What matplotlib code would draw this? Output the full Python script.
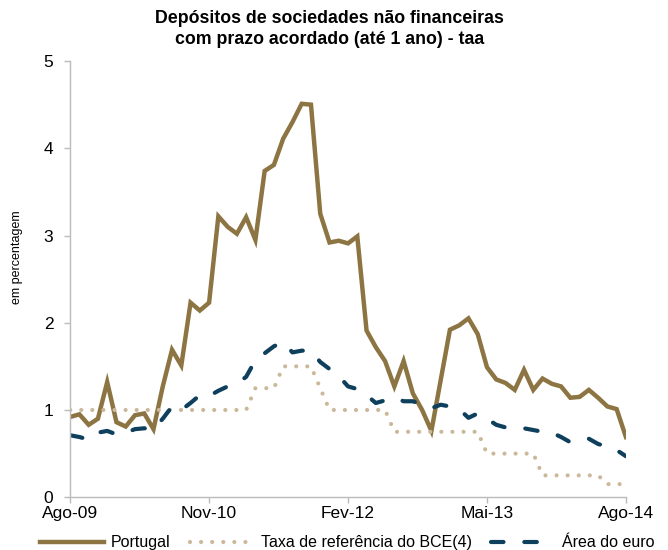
import matplotlib.pyplot as plt
import numpy as np

# Séries mensais, Ago-09 a Ago-14 (taxas em percentagem)
portugal = [0.92, 0.95, 0.83, 0.90, 1.32, 0.86, 0.81, 0.94, 0.96, 0.78,
            1.27, 1.69, 1.51, 2.23, 2.14, 2.23, 3.22, 3.10, 3.02, 3.21,
            2.95, 3.74, 3.81, 4.11, 4.30, 4.51, 4.50, 3.25, 2.92, 2.94,
            2.91, 2.99, 1.91, 1.72, 1.56, 1.27, 1.56, 1.19, 1.00, 0.76,
            1.34, 1.92, 1.97, 2.05, 1.87, 1.49, 1.35, 1.31, 1.23, 1.46,
            1.23, 1.36, 1.30, 1.27, 1.14, 1.15, 1.23, 1.14, 1.04, 1.01,
            0.69]
taxa_bce = [1.00] * 20 + [1.25] * 3 + [1.50] * 4 + [1.25] + [1.00] * 7 + \
           [0.75] * 10 + [0.50] * 6 + [0.25] * 7 + [0.15] * 3
area_euro = [0.71, 0.69, 0.66, 0.74, 0.76, 0.72, 0.74, 0.78, 0.79, 0.78,
             0.90, 1.04, 1.00, 1.08, 1.17, 1.16, 1.22, 1.27, 1.30, 1.38,
             1.57, 1.65, 1.73, 1.78, 1.66, 1.68, 1.68, 1.55, 1.47, 1.39,
             1.27, 1.24, 1.17, 1.08, 1.11, 1.14, 1.10, 1.10, 1.06, 1.02,
             1.06, 1.04, 1.01, 0.91, 0.96, 0.90, 0.83, 0.80, 0.79, 0.79,
             0.77, 0.75, 0.74, 0.69, 0.63, 0.65, 0.67, 0.61, 0.58, 0.54,
             0.47]
tick_labels = ["Ago-09", "Nov-10", "Fev-12", "Mai-13", "Ago-14"]

meses = np.arange(len(portugal))

plt.rcParams['font.family'] = ['Liberation Sans Narrow', 'Liberation Sans', 'DejaVu Sans']

fig = plt.figure(figsize=(6.68, 5.5), dpi=100)
ax = fig.add_axes([0.105, 0.096, 0.832, 0.793])

ax.plot(meses, portugal, color="#8C7542", lw=3.2, solid_joinstyle="miter",
        label="Portugal")
ax.plot(meses, taxa_bce, color="#CBB89A", lw=3.0,
        linestyle=(0, (0.01, 2.65)), dash_capstyle="round",
        label="Taxa de referência do BCE(4)")
ax.plot(meses, area_euro, color="#0E3F5C", lw=3.0,
        linestyle=(0, (3.0, 5.0)), dash_capstyle="round",
        label="Área do euro")

ax.set_xlim(0, 60)
ax.set_ylim(0, 5)
ax.set_xticks(np.arange(0, 61, 15))
ax.set_xticklabels(tick_labels)
ax.set_yticks(np.arange(0, 6, 1))

for lado in ["top", "right"]:
    ax.spines[lado].set_visible(False)
for lado in ["left", "bottom"]:
    ax.spines[lado].set_color("#BBBBBB")
    ax.spines[lado].set_linewidth(1.0)
ax.tick_params(axis="both", colors="#BBBBBB", labelcolor="black",
               labelsize=12.5, length=4, width=1.0)
ax.tick_params(axis="x", pad=2.5)
ax.tick_params(axis="y", pad=8)

ax.set_ylabel("em percentagem", fontsize=9)
ax.yaxis.set_label_coords(-0.085, 0.55)

fig.suptitle("Depósitos de sociedades não financeiras\ncom prazo acordado (até 1 ano) - taa",
             x=0.493, y=0.982, fontsize=12.8, fontweight="bold", linespacing=1.35)

fig.legend(loc="center", bbox_to_anchor=(0.52, 0.013), ncol=3, frameon=False,
           fontsize=11.5, handlelength=4.0, columnspacing=1.2, handletextpad=0.45)

fig.savefig("out.png", dpi=100)
